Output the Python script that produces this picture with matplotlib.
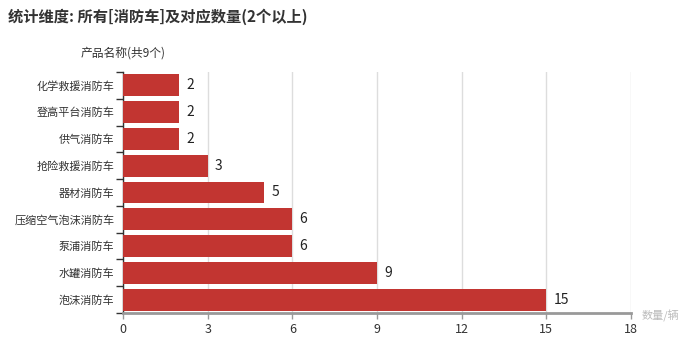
import matplotlib
matplotlib.use("Agg")
import matplotlib.pyplot as plt
import numpy as np

plt.rcParams['font.family'] = ['Noto Sans CJK SC', 'DejaVu Sans']

categories = ["化学救援消防车", "登高平台消防车", "供气消防车", "抢险救援消防车", "器材消防车",
              "压缩空气泡沫消防车", "泵浦消防车", "水罐消防车", "泡沫消防车"]
values = [2, 2, 2, 3, 5, 6, 6, 9, 15]
xticks = [0, 3, 6, 9, 12, 15, 18]

title = "统计维度: 所有[消防车]及对应数量(2个以上)"
yname = "产品名称(共9个)"
xname = "数量/辆"

bar_color = "#c23531"

fig = plt.figure(figsize=(7, 3.46), dpi=100)
ax = fig.add_axes([123/700, 1 - 313/346, (631 - 123)/700, (313 - 72)/346])

y = np.arange(len(categories))
ax.barh(y, values, height=0.82, color=bar_color, zorder=3)
for yi, v in zip(y, values):
    ax.text(v + 0.25, yi, str(v), va='center', ha='left', fontsize=10, color='#222222', zorder=4)

ax.set_xlim(0, 18)
ax.set_ylim(len(categories) - 0.5, -0.5)
ax.set_xticks(xticks)
ax.set_xticklabels([str(t) for t in xticks], fontsize=9, color='#333333')
ax.set_yticks(y)
ax.set_yticklabels(categories, fontsize=8, color='#333333')
ax.set_yticks(np.arange(len(categories) + 1) - 0.5, minor=True)
ax.tick_params(axis='y', which='major', length=0, pad=6)
ax.tick_params(axis='y', which='minor', length=5, color='#333333', width=1)
ax.tick_params(axis='x', which='major', length=4, color='#999999', width=1, pad=3)

ax.grid(axis='x', color='#dddddd', linewidth=1, zorder=0)
for s in ['top', 'right']:
    ax.spines[s].set_visible(False)
ax.spines['left'].set_color('#333333')
ax.spines['left'].set_linewidth(1)
ax.spines['bottom'].set_color('#999999')
ax.spines['bottom'].set_linewidth(2)

fig.text(8/700, 1 - 17/346, title, fontsize=11, fontweight='bold', color='#333333', va='center', ha='left')
fig.text(123/700, 1 - 53/346, yname, fontsize=8.5, color='#333333', va='center', ha='center')
fig.text(660/700, 1 - 316/346, xname, fontsize=8, color='#bbbbbb', va='center', ha='center')

fig.savefig("out.png", dpi=100, facecolor='white')
